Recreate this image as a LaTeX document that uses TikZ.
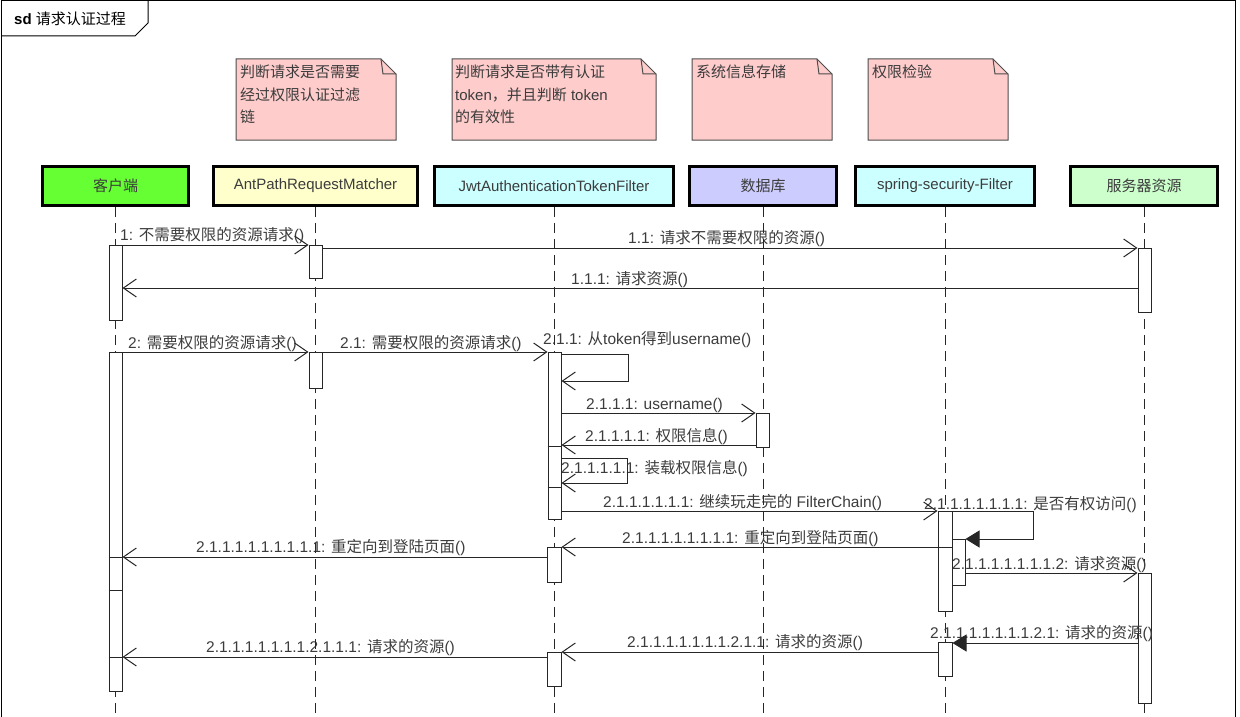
\documentclass[tikz,border=0pt]{standalone}
\usepackage{fontspec}
\setmainfont{Liberation Sans}
\newfontfamily\cjk{Noto Sans CJK SC}
\usetikzlibrary{arrows.meta}
\newcommand\zh[1]{{\cjk #1}}
\definecolor{txt}{HTML}{3C3C3C}
\definecolor{notepink}{HTML}{FFCCCC}
\definecolor{hgreen}{HTML}{66FF33}
\definecolor{hyellow}{HTML}{FFFFCC}
\definecolor{hcyan}{HTML}{CCFFFF}
\definecolor{hblue}{HTML}{CCCCFF}
\definecolor{hlgreen}{HTML}{CCFFCC}
\begin{document}
\begin{tikzpicture}[x=1pt,y=-1pt,
  font=\fontsize{15}{18}\selectfont,
  msgline/.style={draw=black!85, line width=1pt},
  openarr/.style={msgline, -{Straight Barb[length=13pt,width=18pt,line width=1pt]}},
  fillarr/.style={msgline, -{Triangle[length=14pt,width=17pt]}},
  lab/.style={anchor=base west, inner sep=0pt, text=txt, font=\fontsize{15.5}{18}\selectfont},
  act/.style={draw=black!85, fill=white, line width=1pt, minimum width=13pt, inner sep=0pt, anchor=north},
  head/.style={draw=black, line width=3pt, minimum height=39pt, inner sep=0pt, text=txt},
  life/.style={draw=black!85, line width=1pt, dash pattern=on 10pt off 6pt},
  note/.style={fill=notepink, draw=black!70, line width=1pt},
  notefold/.style={draw=black!70, line width=1pt},
  notetext/.style={anchor=north west, inner sep=0pt, align=left, text=txt, font=\fontsize{15}{22.5}\selectfont},
]
\useasboundingbox (0,0) rectangle (1240,717);

% frame
\draw[line width=1pt] (1,717) -- (1,1) -- (1235,1) -- (1235,717);
\draw[line width=1pt] (1,36) -- (135,36) -- (148,23) -- (148,1);
\node[anchor=base west, inner sep=0pt] (title) at (14,25) {\textbf{sd} \zh{请求认证过程}};

% notes
\draw[note] (236,59) -- (381,59) -- (396,74) -- (396,140) -- (236,140) -- cycle;
\draw[notefold] (381,59) -- (383,74) -- (396,74);
\node[notetext] (n1) at (240,65) {\zh{判断请求是否需要}\\\zh{经过权限认证过滤}\\\zh{链}};

\draw[note] (452,59) -- (641,59) -- (656,74) -- (656,140) -- (452,140) -- cycle;
\draw[notefold] (641,59) -- (643,74) -- (656,74);
\node[notetext] (n2) at (455,65) {\zh{判断请求是否带有认证}\\token\zh{，并且判断} token\\\zh{的有效性}};

\draw[note] (692,59) -- (817,59) -- (832,74) -- (832,140) -- (692,140) -- cycle;
\draw[notefold] (817,59) -- (819,74) -- (832,74);
\node[notetext] (n3) at (696,65) {\zh{系统信息存储}};

\draw[note] (868,59) -- (993,59) -- (1008,74) -- (1008,140) -- (868,140) -- cycle;
\draw[notefold] (993,59) -- (995,74) -- (1008,74);
\node[notetext] (n4) at (872,65) {\zh{权限检验}};

% heads
\node[head, fill=hgreen,  minimum width=146pt] (h1) at (115.5,186) {\zh{客户端}};
\node[head, fill=hyellow, minimum width=204pt] (h2) at (315.5,186) {AntPathRequestMatcher};
\node[head, fill=hcyan,   minimum width=239pt] (h3) at (554,186) {JwtAuthenticationTokenFilter};
\node[head, fill=hblue,   minimum width=147pt] (h4) at (763,186) {\zh{数据库}};
\node[head, fill=hcyan,   minimum width=179pt] (h5) at (945,186) {spring-security-Filter};
\node[head, fill=hlgreen, minimum width=147pt] (h6) at (1144,186) {\zh{服务器资源}};

% labels (under lifelines)
\node[lab] (l1)  at (120,240) {1: \zh{不需要权限的资源请求}()};
\node[lab] (l2)  at (628,243) {1.1: \zh{请求不需要权限的资源}()};
\node[lab] (l3)  at (571,284) {1.1.1: \zh{请求资源}()};
\node[lab] (l4)  at (128,348) {2: \zh{需要权限的资源请求}()};
\node[lab] (l5)  at (340,348) {2.1: \zh{需要权限的资源请求}()};
\node[lab] (l6)  at (543,344) {2.1.1: \zh{从}token\zh{得到}username()};
\node[lab] (l7)  at (586,409) {2.1.1.1: username()};
\node[lab] (l8)  at (585,441) {2.1.1.1.1: \zh{权限信息}()};
\node[lab] (l9)  at (561,473) {2.1.1.1.1.1: \zh{装载权限信息}()};
\node[lab] (l10) at (603,507) {2.1.1.1.1.1.1: \zh{继续玩走完的} FilterChain()};
\node[lab] (l11) at (924,509) {2.1.1.1.1.1.1.1: \zh{是否有权访问}()};
\node[lab] (l12) at (622,543) {2.1.1.1.1.1.1.1.1: \zh{重定向到登陆页面}()};
\node[lab] (l13) at (196,552) {2.1.1.1.1.1.1.1.1.1: \zh{重定向到登陆页面}()};
\node[lab] (l16) at (627,647) {2.1.1.1.1.1.1.1.2.1.1: \zh{请求的资源}()};
\node[lab] (l17) at (206,652) {2.1.1.1.1.1.1.1.2.1.1.1: \zh{请求的资源}()};

% lifelines
\foreach \h in {h1,h2,h3,h4,h5,h6}
  \draw[life] (\h.south) -- ++(0,506);

% activations
\node[act, minimum height=75pt]  (a1)  at (115.5,245) {};
\node[act, minimum height=33pt]  (a2)  at (315.5,245) {};
\node[act, minimum height=64pt]  (a3)  at (1144.5,248) {};
\node[act, minimum height=339pt] (a4)  at (115.5,352) {};
\node[act, minimum height=36pt]  (a5)  at (315.5,352) {};
\node[act, minimum height=167pt] (a6)  at (554.5,352) {};
\node[act, minimum height=34pt]  (a7)  at (762.5,413) {};
\node[act, minimum height=100pt, minimum width=14pt] (a8) at (945,511) {};
\node[act, minimum height=46pt]  (a9)  at (958.5,539) {};
\node[act, minimum height=35pt, minimum width=14pt] (a10) at (554,547) {};
\node[act, minimum height=130pt] (a11) at (1144.5,573) {};
\node[act, minimum height=34pt, minimum width=14pt] (a12) at (945,642) {};
\node[act, minimum height=34pt, minimum width=14pt] (a13) at (554,652) {};

% labels over the activations
\node[lab] (l14) at (952,569) {2.1.1.1.1.1.1.1.2: \zh{请求资源}()};
\node[lab] (l15) at (930,638) {2.1.1.1.1.1.1.1.2.1: \zh{请求的资源}()};

% activation dividers
\foreach \yy in {557,590,657}
  \draw[msgline] (a4.west |- 0,\yy) -- (a4.east |- 0,\yy);
\foreach \yy in {446,487}
  \draw[msgline] (a6.west |- 0,\yy) -- (a6.east |- 0,\yy);

% messages
\draw[openarr] (a1.east |- 0,245) -- (a2.west |- 0,245);
\draw[openarr] (a2.east |- 0,248) -- (a3.west |- 0,248);
\draw[openarr] (a3.west |- 0,288) -- (a1.east |- 0,288);
\draw[openarr] (a4.east |- 0,352) -- (a5.west |- 0,352);
\draw[openarr] (a5.east |- 0,352) -- (a6.west |- 0,352);
\draw[openarr] (a6.east |- 0,354) -- ++(67,0) -- ++(0,27) -- (a6.east |- 0,381);
\draw[openarr] (a6.east |- 0,413) -- (a7.west |- 0,413);
\draw[openarr] (a7.west |- 0,445) -- (a6.east |- 0,445);
\draw[openarr] (a6.east |- 0,458) -- ++(66,0) -- ++(0,25) -- (a6.east |- 0,483);
\draw[openarr] (a6.east |- 0,511) -- (a8.west |- 0,511);
\draw[fillarr] (a8.east |- 0,511) -- ++(81,0) -- ++(0,28) -- (a9.east |- 0,539);
\draw[openarr] (a9.west |- 0,547) -- (a10.east |- 0,547);
\draw[openarr] (a10.west |- 0,557) -- (a4.east |- 0,557);
\draw[openarr] (a9.east |- 0,573) -- (a11.west |- 0,573);
\draw[fillarr] (a11.west |- 0,643) -- (a12.east |- 0,643);
\draw[openarr] (a12.west |- 0,652) -- (a13.east |- 0,652);
\draw[openarr] (a13.west |- 0,657) -- (a4.east |- 0,657);
\end{tikzpicture}
\end{document}
